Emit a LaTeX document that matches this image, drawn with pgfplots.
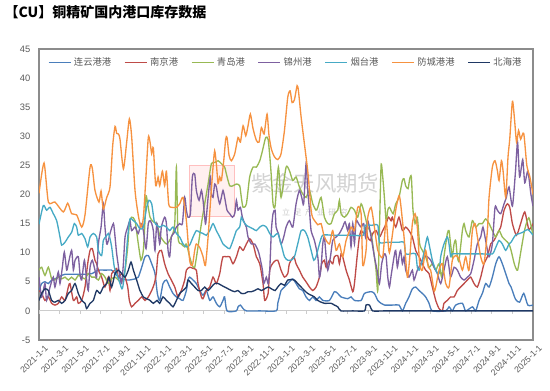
\documentclass[border=0pt]{standalone}
\usepackage{fontspec}
\setmainfont{Liberation Sans}
\newfontfamily\cjk{Noto Sans CJK SC}
\usepackage{pgfplots}
\pgfplotsset{compat=1.18}
\definecolor{cBlue}{HTML}{4A7EBB}
\definecolor{cRed}{HTML}{BE4B48}
\definecolor{cGreen}{HTML}{98B954}
\definecolor{cPurple}{HTML}{7D60A0}
\definecolor{cCyan}{HTML}{46AAC5}
\definecolor{cOrange}{HTML}{F69240}
\definecolor{cNavy}{HTML}{1F3864}
\definecolor{cTick}{HTML}{595959}
\begin{document}
\begin{tikzpicture}
\path[use as bounding box] (-29.25pt,-38.25pt) rectangle (383.25pt,255pt);
\node[anchor=west, inner sep=0pt, font=\cjk\bfseries\fontsize{10.5}{12}\selectfont] at (-26pt,246pt) {【CU】铜精矿国内港口库存数据};
% watermark
\node[draw=red!25, fill=red!6, line width=1pt, minimum width=34pt, minimum height=38pt] at (129.75pt,111.75pt) {};
\node[text=gray!35, font=\cjk\fontsize{16}{18}\selectfont] at (207pt,117.75pt) {紫金天风期货};
\node[text=gray!40, font=\cjk\fontsize{6}{7}\selectfont] at (207pt,96pt) {立\ \ 足\ \ 产\ \ 业\ \ 研\ \ 究};
\begin{axis}[
  at={(0pt,0pt)}, anchor=south west,
  scale only axis, width=370.5pt, height=218.25pt,
  xmin=0, xmax=48, ymin=-5, ymax=45,
  ytick={-5,0,...,45},
  xtick={0,2,...,48},
  xticklabels={2021-1-1,2021-3-1,2021-5-1,2021-7-1,2021-9-1,2021-11-1,2022-1-1,2022-3-1,2022-5-1,2022-7-1,2022-9-1,2022-11-1,2023-1-1,2023-3-1,2023-5-1,2023-7-1,2023-9-1,2023-11-1,2024-1-1,2024-3-1,2024-5-1,2024-7-1,2024-9-1,2024-11-1,2025-1-1},
  major tick length=0pt,
  axis line style={draw=black!45, line width=0.9pt},
  tick label style={text=cTick},
  /pgf/number format/assume math mode=true,
  yticklabel style={font=\fontsize{7}{8}\selectfont, xshift=-3pt},
  xticklabel style={font=\fontsize{6.5}{7}\selectfont, rotate=45, anchor=north east, inner sep=1pt, yshift=-4pt, xshift=1.5pt},
  legend style={at={(0.5,0.953)}, anchor=center, draw=none, fill=none, font=\cjk\fontsize{7}{8}\selectfont, text=cTick, inner sep=0pt, /tikz/every even column/.append style={column sep=7.5pt}},
  legend columns=7,
  legend image code/.code={\draw[#1, line width=1.1pt] (0pt,0pt) -- (16.5pt,0pt);},
  every axis plot/.append style={line width=1pt, mark=none, smooth, tension=0.4},
]
\draw[black!20, line width=0.6pt] (axis cs:0,0) -- (axis cs:48,0);
\pgfplotsinvokeforeach{0,2,4,6,8,10,12,14,16,18,20,22,24,26,28,30,32,34,36,38,40,42,44,46,48}{\draw[black!20, line width=0.6pt] (axis cs:#1,0) -- ++(0pt,-2.5pt);}
% 连云港港
\addplot[cBlue] table {
0 3.5
0.26 4.7
0.58 5.0
0.91 4.7
1.23 5.3
1.55 5.5
1.88 5.8
2.2 6.1
2.53 6.3
3.5 6.3
4.47 6.3
5.12 6.4
5.77 7.0
6.41 7.0
7.06 7.0
7.39 6.4
7.71 5.8
8.03 5.5
8.68 5.3
9.33 5.5
9.65 5.8
9.98 7.5
10.3 9.3
10.62 9.5
10.95 8.1
11.27 6.4
11.5 3.0
11.73 1.8
12.05 4.7
12.38 5.3
12.7 4.1
13.02 3.0
13.35 2.4
13.67 2.1
13.99 1.8
14.32 3.5
14.48 5.3
14.64 5.8
14.97 5.3
15.29 4.7
15.62 3.5
15.94 2.7
16.26 3.5
16.59 1.8
16.91 2.4
17.23 1.3
17.56 0.7
17.88 1.8
18.04 2.4
18.27 0
19.18 0
19.34 0.7
19.57 1.0
19.83 0.4
20.15 0
21.5 0
23.04 0
23.2 1.3
23.36 2.4
23.52 3.5
23.85 4.1
24.17 4.7
24.49 5.3
24.66 5.5
24.98 4.7
25.3 3.8
25.63 3.5
25.95 2.4
26.28 1.8
26.6 2.4
26.92 1.8
27.25 2.4
27.57 1.8
28.22 1.8
28.7 3.3
29.03 3.0
29.35 2.4
30.0 2.1
30.32 2.4
30.65 1.8
31.3 1.8
31.62 3.0
32.27 3.3
32.59 3.0
32.92 1.8
33.24 1.3
33.56 1.0
34.41 1.0
34.98 1.0
35.31 0
35.63 1.3
35.95 2.4
36.28 3.8
36.6 4.1
36.93 3.5
37.25 3.0
37.57 2.4
37.9 1.3
38.22 0
39.52 0
39.84 0.7
40.16 0
40.49 1.0
41.14 1.3
41.46 0
42.11 0.7
42.43 0
42.76 1.8
43.08 3.0
43.4 4.7
43.73 4.1
44.05 5.8
44.38 8.1
44.7 9.3
45.02 8.1
45.35 6.4
45.67 4.7
45.87 4.1
46.3 2
46.7 1.5
47.1 3
47.5 1
48 1
};
\addlegendentry{连云港港}
% 南京港
\addplot[cRed] table {
0 3.5
0.26 3.0
0.58 1.8
0.91 2.4
1.23 1.3
1.55 1.0
1.88 1.3
2.2 2.4
2.53 1.8
2.85 4.1
3.01 4.7
3.34 1.8
3.66 2.4
3.82 1.3
4.15 1.8
4.47 4.1
4.73 8.1
4.96 10.4
5.18 10.7
5.44 8.7
5.6 8.1
5.77 7
6.09 5.8
6.41 4.1
6.74 5.8
6.9 3.5
7.06 6.4
7.39 7
7.55 7.3
7.71 5.8
8.03 6.4
8.36 5.8
8.62 4.1
8.78 1.8
9.0 0.7
9.33 1.3
9.65 1.8
9.98 2.4
10.3 1.8
10.62 2.4
10.95 3.5
11.21 4.7
11.4 6.5
11.57 9.8
11.89 10.4
12.21 8.1
12.54 6.4
12.86 5.3
13.19 4.1
13.51 2.4
13.83 3.5
14.16 5.3
14.32 7
14.64 7.5
14.97 7.3
15.29 7
15.45 4.7
15.78 2.4
15.94 2.1
16.26 3.5
16.59 4.1
16.91 5.8
17.23 4.7
17.56 6.4
17.72 8.1
17.88 9.3
18.21 9.3
18.53 9.3
18.85 8.1
19.18 9.3
19.5 11
19.83 10.4
20.15 11.5
20.47 12.4
20.8 11.5
21.12 9.3
21.45 8.1
21.77 4.7
21.93 1.8
22.26 3.0
22.42 7
22.68 8.1
22.87 8.5
23.2 8.7
23.52 7
23.85 5.8
24.17 6.4
24.33 8.1
24.75 9.3
24.98 8.1
25.3 7
25.63 5.8
25.95 5.0
26.28 4.1
26.6 3.5
26.92 4.1
27.25 5.8
27.47 8.1
27.73 8.7
27.9 7.5
28.22 8.7
28.54 8.1
28.7 9.3
29.03 9.5
29.19 8.1
29.35 9.8
29.51 9.3
29.84 7
30.16 5.3
30.49 3.3
30.65 4.7
30.91 9.3
31.13 12.7
31.3 13.8
31.55 13.3
31.78 14.4
31.94 12.7
32.2 12.1
32.43 13.3
32.75 13.8
33.08 12.7
33.4 13.8
33.73 15
33.95 16.1
34.21 15.5
34.33 16.1
34.66 14.4
34.98 16.1
35.31 13.8
35.63 14.4
35.95 13.8
36.28 12.7
36.6 10.4
36.93 9.3
37.25 8.1
37.57 7
37.9 6.4
38.22 4.1
38.55 1.8
38.87 0.4
39.19 0
39.35 1.3
39.68 1.8
39.99 2.4
40.33 2.4
40.65 3.5
40.97 4.1
41.3 4.7
41.62 5.3
41.95 5.8
42.27 4.7
42.59 4.1
42.92 5.8
43.24 8.1
43.57 9.3
43.89 11.5
44.21 12.1
44.54 13.3
44.86 14.4
45.19 17.3
45.51 18.4
45.74 17.8
46.0 15
46.4 13
46.8 15
47.2 17
47.6 14
48 15
};
\addlegendentry{南京港}
% 青岛港
\addplot[cGreen] table {
0 7
0.26 7.5
0.58 6.1
0.91 7.5
1.23 5.5
1.55 5.3
1.88 5.8
2.2 5.5
2.53 5.8
2.85 5.3
3.17 5.8
3.5 5.3
3.82 6.1
4.15 5.8
4.47 5.5
4.79 6.4
5.12 5.8
5.44 5.8
5.77 5.3
6.09 6.4
6.41 5.8
6.74 4.7
7.06 5.5
7.39 5.8
7.71 5.3
8.03 5.0
8.36 7
8.62 11
8.78 15
9.0 16.1
9.33 15.5
9.65 11.5
9.91 8.7
10.14 10.4
10.3 15.5
10.4 19.8
10.56 18.4
10.79 16.1
11.11 15.3
11.47 15
11.73 13
12.38 11.5
12.86 12.7
13.19 15
13.35 24.7
13.51 12.7
13.83 11.5
14.16 11
14.32 11.5
14.64 9.3
14.9 7.8
15.13 7.5
15.45 11
15.78 15
16.1 18.4
16.43 21.8
16.75 25.3
17.07 25.5
17.4 25.8
17.72 25.3
18.04 24.7
18.21 23.5
18.53 21.5
18.85 21.5
19.18 21.8
19.5 21.5
19.66 19.5
19.83 17.8
20.15 18.4
20.47 23
20.8 24.7
21.12 24.7
21.45 25.8
21.71 27.5
22.03 29.8
22.26 29.5
22.42 26.7
22.58 23
22.74 18.4
22.94 18
23.26 24.7
23.52 19.5
24.01 24.7
24.33 24.1
24.66 22.4
24.98 23
25.3 21.3
25.63 20.1
25.95 19.5
26.28 20.7
26.6 18.4
26.92 17.3
27.09 17.8
27.41 19.5
27.73 16.1
28.06 15
28.38 15
28.7 16.7
29.03 17.3
29.19 19
29.35 16.7
29.68 16.1
30.0 16.7
30.32 17.8
30.65 17.3
30.97 16.1
31.3 18.4
31.62 16.7
31.94 14.4
32.27 13.3
32.59 9.3
32.75 7
32.92 3.5
33.08 13.8
33.24 25
33.4 23
33.56 19.5
33.73 15.5
33.89 17.3
34.05 17.8
34.41 16.7
34.66 18.4
34.98 19.5
35.31 22.4
35.47 22.7
35.63 21.5
35.86 21
36.02 22.7
36.18 23
36.34 17.3
36.54 15
36.76 16.1
36.99 11.5
37.25 10.4
37.57 9.3
37.9 7.5
38.22 8.1
38.55 7
38.87 8.1
39.13 5.8
39.35 9.3
39.68 13.3
39.84 13.8
39.99 11.5
40.16 9.3
40.33 11.5
40.49 12.1
40.65 9.3
40.81 8.7
41.14 13.8
41.3 15
41.46 13.8
41.78 12.7
42.11 15.5
42.43 14.4
42.76 15
43.08 15
43.4 15.8
43.73 15
44.05 13.8
44.38 12.7
44.7 13.8
45.02 12.7
45.35 12.1
45.67 11.5
45.87 10.4
46.2 8
46.5 7
46.8 10
47.2 14
47.6 16
48 13
};
\addlegendentry{青岛港}
% 锦州港
\addplot[cPurple] table {
0 5.8
0.26 2.4
0.58 4.7
0.74 1.8
1.07 4.1
1.39 5.8
1.55 4.1
1.88 6.7
2.04 4.7
2.27 7.5
2.46 10.1
2.69 7.0
2.85 8.1
3.17 10.4
3.34 7.0
3.5 8.7
3.82 9.3
3.98 6.4
4.15 5.3
4.41 8.7
4.63 5.3
4.79 3.5
4.96 7.5
5.18 8.7
5.44 7
5.6 5.8
5.77 11.5
6.03 14.4
6.25 18.4
6.41 14.4
6.58 11.5
6.74 12.1
6.9 13.3
7.23 15
7.39 12.7
7.55 9.8
7.87 5.8
8.03 4.7
8.2 8.1
8.36 12.7
8.62 14.4
8.84 15.5
9.0 13.8
9.33 14.4
9.65 13.3
9.91 15
10.14 13.8
10.4 10.7
10.62 15
10.79 15.5
10.95 15
11.11 13.8
11.27 10.4
11.45 15
11.73 11.5
11.89 14.4
12.21 16.1
12.38 15
12.54 10.4
12.7 9.3
12.86 12.7
13.09 13.3
13.35 14.4
13.67 15
13.93 15
14.16 19.5
14.32 17.3
14.48 16.1
14.71 16.7
14.9 23
15.13 23.5
15.29 20.7
15.55 19
15.78 20.7
15.94 19
16.1 16.1
16.2 15
16.43 19.5
16.65 23
16.75 20.1
16.91 19.5
17.07 21.8
17.23 21.3
17.4 19.5
17.56 18.4
17.72 19.5
17.88 20.7
18.04 19.5
18.27 17.3
18.53 16.7
18.79 16.1
19.02 16.7
19.18 19
19.34 17.3
19.57 17.8
19.76 16.1
19.99 15
20.15 14.4
20.31 12.7
20.64 11.5
20.96 11.5
21.28 10.4
21.45 9.3
21.71 7
21.84 4.7
22.09 5.8
22.26 4.7
22.42 7
22.58 13.8
22.74 16.7
22.94 17.3
23.04 14.4
23.26 13.3
23.52 11.5
23.78 12.7
24.01 14.4
24.33 15.5
24.66 14.4
24.98 18.4
25.3 20.7
25.53 19.5
25.72 18.4
25.95 25.3
26.11 20.7
26.28 17.3
26.44 13.8
26.76 12.1
27.09 9.3
27.25 5.8
27.41 7.5
27.57 11.5
27.73 12.7
27.9 9.3
28.06 7
28.32 9.3
28.54 12.1
28.87 12.7
29.19 13.3
29.51 14.4
29.74 15.3
30.0 13.8
30.16 15
30.32 11
30.49 15
30.65 11.5
30.81 15.5
31.04 15
31.3 14.4
31.55 15
31.72 12.7
31.94 15.5
32.27 12.7
32.59 9.3
32.85 7
33.08 4.7
33.3 8.1
33.56 9.8
33.73 9.3
33.89 5.8
34.05 4.1
34.21 6
34.5 9.3
34.66 10.4
34.82 7.5
34.98 9.3
35.14 10.4
35.31 8.1
35.47 9.3
35.63 7
35.95 5.8
36.28 7
36.44 5.3
36.76 7
37.09 8.1
37.41 9.3
37.74 9.3
38.06 8.7
38.38 7.5
38.71 6.4
39.03 4.7
39.35 7
39.68 9.3
39.99 5.8
40.33 7.5
40.65 7
40.97 5.8
41.3 5.3
41.62 5.8
41.95 6.4
42.27 8.7
42.59 11.5
42.92 12.7
43.14 14.4
43.4 12.1
43.73 9.3
44.05 11.5
44.31 17.8
44.54 17.3
44.86 16.7
45.19 18.4
45.41 19.5
45.67 21.3
46.0 18
46.3 24
46.5 29
46.7 23
47.0 26
47.2 22
47.5 24
47.8 20
48 18
};
\addlegendentry{锦州港}
% 烟台港
\addplot[cCyan] table {
0 14.9
0.42 18.1
0.74 17.3
1.07 17.8
1.39 16.7
1.72 15.5
2.04 12.7
2.2 11.3
2.53 11.8
2.85 12.7
3.17 13.5
3.43 15
3.66 14.4
3.82 13
4.15 13.3
4.47 12.4
4.73 11
4.96 12.7
5.28 13.3
5.6 12.7
5.77 10.4
6.09 9.5
6.25 12.1
6.48 12.7
6.74 13.3
6.9 12.4
7.06 11
7.32 7.5
7.55 6.4
7.87 4.7
8.1 3.8
8.36 7
8.62 12.7
8.84 15.8
9.17 15.5
9.49 15
9.81 14.1
10.14 14.4
10.46 17.8
10.69 19
10.95 18.4
11.21 15.3
11.47 14.7
11.73 14.4
12.05 14.7
12.38 14.4
12.7 13.8
13.02 14.4
13.35 13.3
13.67 12.7
14.0 11.5
14.32 11
14.64 11.3
14.97 12.7
15.29 13.8
15.62 13.5
15.94 13.3
16.26 13
16.59 13.8
16.91 15
17.23 13.8
17.56 12.7
17.88 11.5
18.21 11
18.53 10.7
18.85 12.1
19.18 13.8
19.5 14.4
19.66 16.1
19.83 15.5
20.15 14.7
20.47 14.4
20.8 14.1
21.12 13.8
21.45 14.4
21.77 14.7
22.09 14.4
22.42 13.3
22.74 12.7
23.2 13.3
23.52 11.5
23.85 9.3
24.17 8.7
24.49 8.7
24.82 9.3
25.14 11.5
25.47 13.8
25.79 13.8
26.11 12.7
26.44 10.4
26.7 8.7
26.92 9.3
27.25 11.5
27.57 13
28.5 13
29.5 13
30.49 13
31.5 13
31.7 14.7
32.3 14.7
32.92 14.7
33.08 11.8
33.8 11.8
34.41 11.8
35.0 11.8
35.47 11.8
35.63 9.8
36.1 9.8
36.6 9.8
36.76 7.5
36.93 7
37.25 8.7
37.57 11.5
37.74 12.7
37.9 11.5
38.22 8.7
38.55 7
38.87 6.4
39.03 9.3
39.35 11.5
39.68 12.7
39.84 11.5
40.0 9.3
40.16 9.8
41 9.8
42 9.8
43 9.8
44.05 9.8
44.38 10.9
44.7 12.1
45.02 11.5
45.35 10.4
45.67 11.5
45.87 11.8
46.3 13
47 13.5
47.5 14
48 13
};
\addlegendentry{烟台港}
% 防城港港
\addplot[cOrange] table {
0 20.2
0.49 25.4
0.91 18.7
1.55 18.7
2.36 17
2.79 18.5
3.17 16.7
3.66 16.5
4.15 14.4
4.47 16.5
4.96 24.7
5.18 24.5
5.44 20.7
5.83 18.7
6.03 20.6
6.25 17.5
6.58 19.5
6.9 21.3
7.16 28.4
7.39 31.7
7.55 30.5
7.71 30.4
7.87 29.5
8.2 24.4
8.52 29
8.78 33
9.0 30
9.33 20.7
9.65 16.4
9.91 14.4
10.14 16
10.37 22.4
10.62 29.8
10.79 29
10.95 27
11.11 28
11.34 21.5
11.57 23
11.73 21.5
11.99 24
12.21 21.5
12.38 24
12.6 18.4
12.86 17.8
13.35 17.8
13.67 18.4
14.0 19.5
14.32 15.5
14.64 8.7
14.9 7.8
15.13 10.4
15.29 11.5
15.62 10.9
15.94 9.3
16.17 7.8
16.43 12.7
16.65 18.4
16.91 24.7
17.07 27.5
17.23 25.3
17.4 21.9
17.56 23
17.72 22.4
17.95 25.8
18.14 29.5
18.27 29.8
18.47 26.7
18.69 25.8
19.02 27
19.34 29.8
19.57 29
19.83 31.8
20.09 30.1
20.31 31.8
20.54 33.8
20.8 31.3
21.12 29.3
21.38 29
21.61 31.5
21.87 30.4
22.16 33.8
22.35 30.1
22.58 27.8
22.87 26.5
23.2 26
23.52 27
23.85 31
24.17 36.7
24.4 37.8
24.59 35.8
24.82 36.3
25.08 38.7
25.21 37.8
25.47 33.3
25.79 28.7
26.11 24.1
26.28 20.7
26.44 17.3
26.6 16
27.1 14.8
27.41 15
27.73 12.7
28.22 11.5
28.54 13.8
28.87 10.4
29.19 11.5
29.51 9.3
29.84 12.1
30.33 14.4
30.65 13.8
30.97 17.8
31.3 16.7
31.46 7.8
31.78 10.4
31.94 16
32.27 17.8
32.59 14.4
32.92 10.4
33.4 9.3
33.73 15.5
34.05 10
34.66 17.3
34.98 19.8
35.14 18.4
35.47 12.7
35.79 5.8
36.02 9.1
36.28 15
36.54 16.7
36.76 14.4
36.99 8.1
37.25 7
37.57 10.4
37.83 7.5
38.06 7
38.38 3.5
38.55 4.1
38.87 7
39.19 8.1
39.52 4.7
39.84 4.1
40.16 8.7
40.49 9.5
40.81 9.0
41.14 7
41.46 9.3
41.78 7
42.11 13.8
42.37 15
42.6 12.7
42.92 9.3
43.24 8.1
43.57 13.8
43.73 19.5
44.05 24.7
44.31 25.8
44.54 24.1
44.7 22.4
44.93 25.8
45.09 24.1
45.35 19.5
45.57 26.4
45.74 29.5
46.0 36
46.2 33
46.4 29
46.6 31
46.8 29.5
47.1 30.5
47.4 25
47.7 23
48 20
};
\addlegendentry{防城港港}
% 北海港
\addplot[cNavy] table {
0 1.8
0.26 3.0
0.58 3.8
0.91 3.5
1.23 1.8
1.55 1.5
1.88 1.8
2.2 1.3
2.53 1.8
2.85 3.0
3.17 3.5
3.5 4.7
3.82 3.0
4.15 1.8
4.47 1.3
4.63 0.4
4.96 1.3
5.28 1.8
5.6 3.5
5.93 3.0
6.25 4.1
6.58 4.7
6.8 5.8
7.06 4.1
7.39 6.4
7.71 7.0
8.03 6.4
8.36 5.8
8.68 7.0
8.94 8.4
9.17 7.0
9.49 5.3
9.81 3.5
10.14 2.4
10.46 2.1
10.79 1.8
11.11 1.3
11.47 1.8
11.73 1.3
12.05 2.4
12.38 1.8
12.7 1.3
13.02 0.7
13.35 1.8
13.67 3.0
13.99 3.5
14.32 4.1
14.48 5.3
14.81 4.7
15.13 4.1
15.45 3.5
15.78 3.5
16.1 4.1
16.43 3.5
16.75 4.1
17.07 4.7
17.4 4.7
17.72 4.4
18.04 4.1
18.37 3.8
18.69 3.5
19.02 3.3
19.34 3.5
19.66 3.0
19.99 3.0
20.31 3.3
20.64 3.3
20.96 3.5
21.28 3.8
21.61 3.5
21.93 3.8
22.26 4.1
22.58 3.8
22.94 3.5
23.2 4.1
23.52 4.7
23.85 4.4
24.17 5.3
24.49 5.4
24.82 5.3
25.14 4.7
25.47 4.1
25.79 3.5
26.11 3.0
26.44 2.7
26.76 2.4
27.09 1.8
27.41 1.5
27.73 1.3
28.38 1.3
28.7 1.0
29.03 0.7
29.35 0
30.5 0
31.62 0
31.78 1.0
32.11 1.0
32.43 0
33.5 0
35 0
38 0
41 0
44 0
46 0
48 0
};
\addlegendentry{北海港}
\end{axis}
\end{tikzpicture}
\end{document}
